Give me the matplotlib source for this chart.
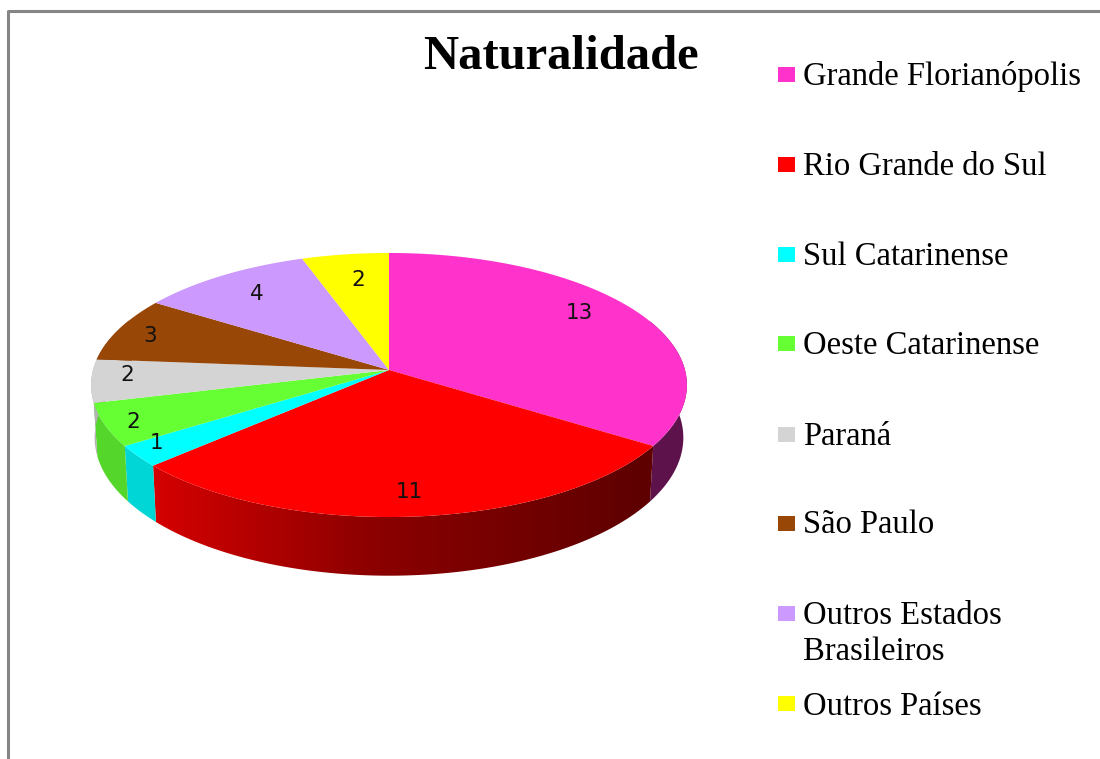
import numpy as np
import matplotlib
matplotlib.use("Agg")
import matplotlib.pyplot as plt
from matplotlib.colors import to_rgb
from matplotlib.patches import Polygon, Rectangle

title = "Naturalidade"
categories = ["Grande Florianópolis", "Rio Grande do Sul", "Sul Catarinense",
              "Oeste Catarinense", "Paraná", "São Paulo",
              "Outros Estados\nBrasileiros", "Outros Países"]
values = [13, 11, 1, 2, 2, 3, 4, 2]
colors = ["#ff33cc", "#ff0000", "#00ffff", "#66ff33",
          "#d4d4d4", "#994707", "#cc99ff", "#ffff00"]

# layout, in pixels of the 1100x759 picture
label_xy = [(579, 313), (409, 492), (156, 443), (133, 422),
            (127, 375), (150, 336), (257, 294), (358, 280)]
legend_y = [74, 164, 254, 343, 434, 523, 613, 703]
text_y = [77, 167, 257, 346, 437, 525, 633.5, 707]

cx, cy = 389, 370      # apex of the pie
radius = 296
persp = -0.1136        # perspective of the tilted disc
y_scale = 88.3
depth = 52
bottom_scale = 0.988


def top_edge(t):
    # t is degrees clockwise from 12 o'clock
    a = np.radians(t)
    s = -np.cos(a)
    d = 1 + persp * s
    return cx + radius * np.sin(a) / d, (cy + y_scale * s) / d


def bottom_edge(t):
    a = np.radians(t)
    s = -np.cos(a)
    d = 1 + persp * s
    x, y = top_edge(t)
    return cx + (x - cx) * bottom_scale, y + depth / d


fig = plt.figure(figsize=(11, 7.59), dpi=100)
ax = fig.add_axes([0, 0, 1, 1])
ax.axis("off")

# chart frame, open on the right and at the bottom
ax.plot([8, 8, 1100], [759, 10.5, 10.5], color="#858585", lw=2.2, solid_capstyle="butt")

edges = np.cumsum([0] + values) / sum(values) * 360
shade = np.interp(np.arange(1100), [150, 370, 640], [0.84, 0.55, 0.37])

# rim: a horizontal shading image clipped to each slice's side
for i in range(len(values)):
    ts = np.linspace(edges[i], edges[i + 1], 80)
    ts = ts[np.cos(np.radians(ts)) <= 0.4]
    if len(ts) < 2:
        continue
    xt, yt = top_edge(ts)
    xb, yb = bottom_edge(ts[::-1])
    rim = Polygon(list(zip(xt, yt)) + list(zip(xb, yb)), transform=ax.transData,
                  facecolor="none", edgecolor="none")
    ax.add_patch(rim)
    strip = shade[None, :, None] * np.array(to_rgb(colors[i]))[None, None, :]
    im = ax.imshow(strip, extent=[0, 1100, 759, 0], aspect="auto", zorder=2)
    im.set_clip_path(rim)

# top face
for i in range(len(values)):
    ts = np.linspace(edges[i], edges[i + 1], 80)
    xs, ys = top_edge(ts)
    pts = [(cx, cy)] + list(zip(xs, ys))
    ax.add_patch(Polygon(pts, facecolor=colors[i], edgecolor="none", zorder=3))

for (x, y), v in zip(label_xy, values):
    ax.text(x, y, str(v), fontsize=15.5, family="DejaVu Sans", color="#111111",
            ha="center", va="center", zorder=4)

ax.text(561, 57, title, fontsize=35, family="Liberation Serif", weight="bold",
        ha="center", va="center")

for name, col, ly, ty in zip(categories, colors, legend_y, text_y):
    ax.add_patch(Rectangle((778, ly - 7.5), 17, 15, facecolor=col, edgecolor="none"))
    ax.text(803, ty, name, fontsize=23.5, family="Liberation Serif", color="black",
            ha="left", va="center", linespacing=1.25)

ax.set_xlim(0, 1100)
ax.set_ylim(759, 0)

fig.savefig("out.png", dpi=100, facecolor="white")
